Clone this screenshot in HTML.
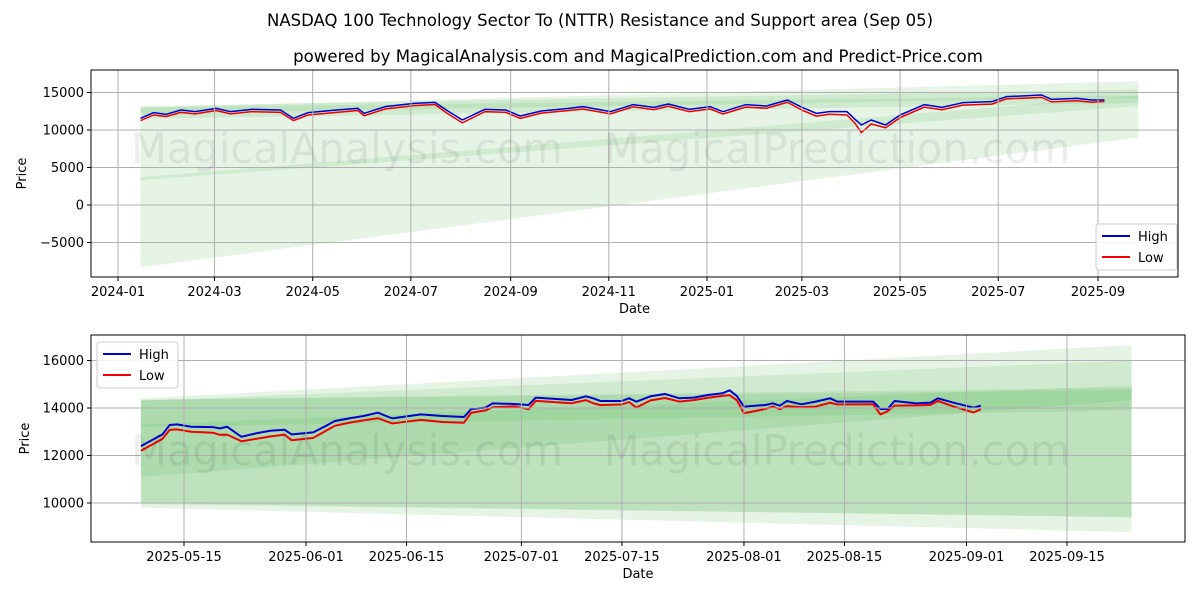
<!DOCTYPE html>
<html><head><meta charset="utf-8"><style>
body{margin:0;background:#fff;font-family:"DejaVu Sans","Liberation Sans",sans-serif}
svg text{font-family:"DejaVu Sans","Liberation Sans",sans-serif}
</style></head><body>
<svg id="c" width="1200" height="600" viewBox="0 0 1200 600">
<defs><clipPath id="cpTop"><rect x="91" y="70" width="1087" height="207"/></clipPath><clipPath id="cpBot"><rect x="91" y="335" width="1094" height="207"/></clipPath></defs>
<text x="600" y="26" text-anchor="middle" font-size="16.5" fill="#000">NASDAQ 100 Technology Sector To (NTTR) Resistance and Support area (Sep 05)</text>
<text x="638" y="62" text-anchor="middle" font-size="16.6" fill="#000">powered by MagicalAnalysis.com and MagicalPrediction.com and Predict-Price.com</text>
</svg>
<script>
// ---- top chart data ----
const topDates=["2024-01-15","2024-01-23","2024-01-31","2024-02-09","2024-02-18","2024-03-02","2024-03-11","2024-03-24","2024-04-11","2024-04-19","2024-04-28","2024-05-16","2024-05-29","2024-06-02","2024-06-15","2024-07-03","2024-07-16","2024-07-23","2024-08-02","2024-08-16","2024-08-29","2024-09-07","2024-09-20","2024-10-07","2024-10-16","2024-11-02","2024-11-16","2024-11-29","2024-12-08","2024-12-21","2025-01-03","2025-01-11","2025-01-25","2025-02-07","2025-02-20","2025-03-01","2025-03-10","2025-03-18","2025-03-29","2025-04-03","2025-04-07","2025-04-13","2025-04-22","2025-05-01","2025-05-16","2025-05-27","2025-06-09","2025-06-27","2025-07-06","2025-07-28","2025-08-03","2025-08-19","2025-08-28","2025-09-05"];
const topHigh=[11556,12311,12089,12667,12444,12889,12444,12756,12667,11556,12311,12667,12889,12222,13111,13556,13689,12667,11333,12756,12667,11867,12533,12889,13111,12444,13378,13022,13467,12756,13111,12444,13378,13200,14000,13022,12222,12444,12444,11422,10667,11333,10667,12000,13378,13022,13644,13778,14444,14667,14089,14222,14000,14000];
const topLow=[11250,12000,11800,12350,12150,12600,12150,12450,12350,11250,12000,12350,12600,11900,12800,13250,13400,12300,10950,12450,12350,11550,12250,12600,12800,12150,13080,12720,13170,12450,12800,12130,13050,12900,13700,12650,11850,12100,12000,10900,9650,10800,10300,11650,13050,12700,13320,13450,14150,14350,13750,13900,13700,13800];
const topBandStart=["2024-01-15"], topBandEnd=["2025-09-26"];
const topBands=[[13000,-8300,16500,9000],[13200,11500,15400,13600],[3300,3700,13200,14600],[13000,12200,14600,14300]];
// ---- bottom chart data ----
const botDates=["2025-05-09","2025-05-12","2025-05-13","2025-05-14","2025-05-16","2025-05-19","2025-05-20","2025-05-21","2025-05-23","2025-05-25","2025-05-27","2025-05-29","2025-05-30","2025-06-02","2025-06-04","2025-06-05","2025-06-07","2025-06-09","2025-06-11","2025-06-13","2025-06-17","2025-06-20","2025-06-23","2025-06-24","2025-06-26","2025-06-27","2025-06-30","2025-07-02","2025-07-03","2025-07-08","2025-07-10","2025-07-11","2025-07-12","2025-07-15","2025-07-16","2025-07-17","2025-07-19","2025-07-21","2025-07-23","2025-07-25","2025-07-27","2025-07-29","2025-07-30","2025-07-31","2025-08-01","2025-08-04","2025-08-05","2025-08-06","2025-08-07","2025-08-09","2025-08-11","2025-08-13","2025-08-14","2025-08-19","2025-08-20","2025-08-21","2025-08-22","2025-08-25","2025-08-27","2025-08-28","2025-08-30","2025-09-02","2025-09-03"];
const botHigh=[12395,12888,13282,13310,13211,13197,13141,13211,12789,12930,13042,13085,12888,12972,13282,13451,13563,13662,13803,13563,13732,13662,13620,13958,14014,14197,14169,14127,14436,14338,14493,14408,14296,14296,14408,14268,14493,14591,14408,14436,14549,14620,14746,14507,14056,14127,14197,14099,14296,14155,14268,14408,14268,14268,13958,13958,14296,14197,14225,14408,14239,14014,14099];
const botLow=[12200,12700,13080,13100,13000,12960,12870,12880,12600,12700,12800,12880,12640,12740,13080,13250,13380,13480,13570,13350,13500,13410,13380,13800,13900,14030,14070,13950,14300,14200,14330,14200,14120,14150,14250,14020,14320,14420,14270,14330,14430,14510,14540,14330,13780,13960,14060,13950,14080,14030,14060,14220,14150,14160,13730,13860,14100,14110,14130,14300,14080,13810,13950];
const botBands=[[14400,9800,16650,8770],[14300,9950,16000,9400],[13300,11100,14950,14330],[14350,13200,14750,13900],[14350,10000,14850,9400]];
const botBandStart=["2025-05-09"], botBandEnd=["2025-09-24"];
const topYTicks=[-5000,0,5000,10000,15000];
const topXTicks=["2024-01","2024-03","2024-05","2024-07","2024-09","2024-11","2025-01","2025-03","2025-05","2025-07","2025-09"];
const botYTicks=[10000,12000,14000,16000];
const botXTicks=["2025-05-15","2025-06-01","2025-06-15","2025-07-01","2025-07-15","2025-08-01","2025-08-15","2025-09-01","2025-09-15"];

const NS="http://www.w3.org/2000/svg", svg=document.getElementById('c');
function el(t,a,p){const e=document.createElementNS(NS,t);for(const k in a)e.setAttribute(k,a[k]);(p||svg).appendChild(e);return e;}
function day(s){const p=s.split('-');return Date.UTC(+p[0],+p[1]-1,p[2]?+p[2]:1)/864e5;}

function panel(o){
  const g=el('g',{});
  
  
  const X=d=>o.px0+(day(d)-day(o.xr[0]))/(day(o.xr[1])-day(o.xr[0]))*(o.px1-o.px0);
  const Y=v=>o.yA+(v-o.vA)*(o.yB-o.yA)/(o.vB-o.vA);
  const cg=el('g',{'clip-path':'url(#'+o.clip+')'},g);
  o.bands.forEach((b,i)=>{
    const xs=X(o.bs),xe=X(o.be);
    const p=el('polygon',{points:`${xs},${Y(b[0])} ${xe},${Y(b[2])} ${xe},${Y(b[3])} ${xs},${Y(b[1])}`,fill:'#4caf50','fill-opacity':0.14},cg);
    
    
  });
  o.yt.forEach(v=>{const l=el('line',{x1:o.x0,x2:o.x1,y1:Y(v),y2:Y(v),stroke:'#b0b0b0','stroke-width':1},g);
    
    el('line',{x1:o.x0-4,x2:o.x0,y1:Y(v),y2:Y(v),stroke:'#000'},g);
    const t=el('text',{x:o.x0-7,y:Y(v)+4.5,'text-anchor':'end','font-size':13},g);t.textContent=v<0?'\u2212'+(-v):v;
    });
  o.xt.forEach(d=>{const x=X(d);const l=el('line',{x1:x,x2:x,y1:o.y0,y2:o.y1,stroke:'#b0b0b0','stroke-width':1},g);
    
    el('line',{x1:x,x2:x,y1:o.y1,y2:o.y1+4,stroke:'#000'},g);
    const t=el('text',{x:x,y:o.y1+19,'text-anchor':'middle','font-size':13},g);t.textContent=d;
    });
  [[347,'MagicalAnalysis.com'],[837,'MagicalPrediction.com']].forEach(w=>{
    const t=el('text',{x:w[0],y:o.wm,'text-anchor':'middle','font-size':41.5,fill:'#000','fill-opacity':0.07},g);t.textContent=w[1];
    });
  [[o.high,'#0000cc','high-line'],[o.low,'#ee0000','low-line']].forEach(s=>{
    const pts=o.dates.map((d,i)=>X(d)+','+Y(s[0][i])).join(' ');
    const pl=el('polyline',{points:pts,fill:'none',stroke:s[1],'stroke-width':o.sw,'stroke-linejoin':'round'},cg);
    });
  const fr=el('rect',{x:o.x0,y:o.y0,width:o.x1-o.x0,height:o.y1-o.y0,fill:'none',stroke:'#000','stroke-width':1},g);
  
  const xl=el('text',{x:(o.x0+o.x1)/2,y:o.y1+36,'text-anchor':'middle','font-size':13},g);xl.textContent='Date';
  
  const yl=el('text',{x:0,y:0,'text-anchor':'middle','font-size':13,transform:`translate(${o.ylx},${(o.y0+o.y1)/2}) rotate(-90)`},g);yl.textContent='Price';
  
  const lg=el('g',{},g);
  
  el('rect',{x:o.lx,y:o.ly,width:81,height:46,rx:3,fill:'#fff','fill-opacity':0.85,stroke:'#ccc'},lg);
  [['High','#0000cc',0],['Low','#ee0000',1]].forEach(e=>{
    const yy=o.ly+12+e[2]*21;
    el('line',{x1:o.lx+6,x2:o.lx+34,y1:yy,y2:yy,stroke:e[1],'stroke-width':2},lg);
    const t=el('text',{x:o.lx+42,y:yy+5,'font-size':13},lg);t.textContent=e[0];
    });
}
panel({name:'top-panel',clip:'cpTop',x0:91,x1:1178,y0:70,y1:277,xr:['2024-01-01','2025-09-01'],px0:118,px1:1098,vA:0,yA:205,vB:10000,yB:130,
  yt:topYTicks,xt:topXTicks,bands:topBands,bs:topBandStart[0],be:topBandEnd[0],dates:topDates,high:topHigh,low:topLow,
  sw:1.5,wm:163,ylx:26,lx:1096,ly:224});
panel({name:'bottom-panel',clip:'cpBot',x0:91,x1:1185,y0:335,y1:542,xr:['2025-05-15','2025-09-15'],px0:184,px1:1067,vA:14000,yA:408,vB:10000,yB:503,
  yt:botYTicks,xt:botXTicks,bands:botBands,bs:botBandStart[0],be:botBandEnd[0],dates:botDates,high:botHigh,low:botLow,
  sw:2,wm:465,ylx:29,lx:97,ly:342});
</script>
</body></html>
